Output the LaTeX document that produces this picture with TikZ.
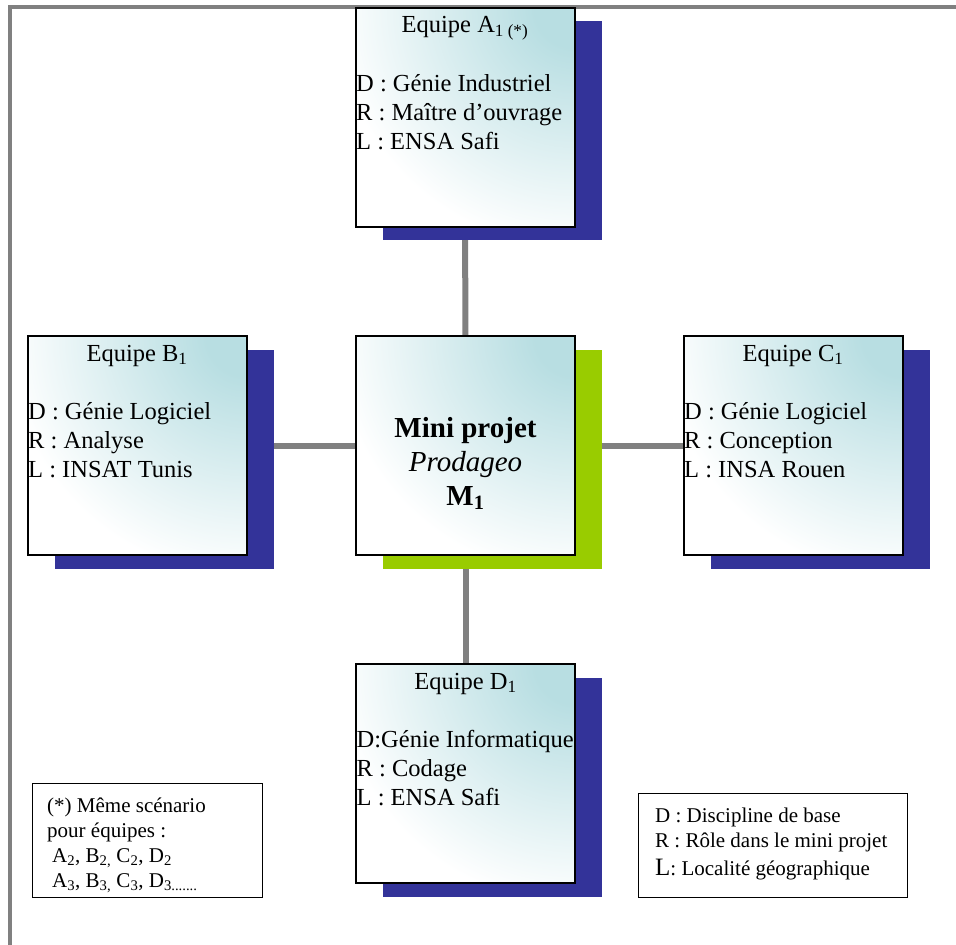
\documentclass[tikz,border=0pt]{standalone}
\usepackage{fontspec}
\setmainfont{Liberation Serif}
\usetikzlibrary{shadows,calc}
\definecolor{tealc}{RGB}{184,222,226}
\definecolor{navyc}{RGB}{51,51,153}
\definecolor{greenc}{RGB}{153,204,0}
\definecolor{grayc}{RGB}{128,128,128}
\pgfdeclareradialshading{tealrad}{\pgfpoint{0bp}{0bp}}{color(0bp)=(tealc); color(4bp)=(tealc); color(24bp)=(white); color(50bp)=(white)}
\pgfdeclarelayer{background}
\pgfsetlayers{background,main}
\tikzset{
  teambox/.style={draw=black, line width=2pt, minimum width=219pt, minimum height=219pt, inner sep=0pt, fill=white,
    path picture={\shade[shading=tealrad] (path picture bounding box.north east) circle (250pt);},
    general shadow={fill=navyc, shadow xshift=27pt, shadow yshift=-13.5pt}},
  centerbox/.style={teambox, general shadow={fill=greenc, shadow xshift=27pt, shadow yshift=-13.5pt}},
  conn/.style={draw=grayc, line width=6pt},
  notebox/.style={draw=black, line width=1.5pt, fill=white, inner sep=0pt},
  bigtxt/.style={inner sep=0pt, font=\fontsize{24.5}{29}\selectfont},
  midtxt/.style={inner sep=0pt, font=\fontsize{29}{34}\selectfont, align=center},
  smalltxt/.style={inner sep=0pt, font=\fontsize{21}{25}\selectfont, align=left},
  frame/.style={draw=grayc, line width=4pt}
}
\begin{document}
\begin{tikzpicture}[x=1pt,y=1pt]
\useasboundingbox (0,0) rectangle (956,-945);
% frame
\draw[frame] (10,-945) -- (10,-7) -- (956,-7);

% boxes
\node[teambox] (A) at (465,-117) {};
\node[teambox] (B) at (137,-445.5) {};
\node[centerbox] (M) at (465.5,-445.5) {};
\node[teambox] (C) at (793,-445.5) {};
\node[teambox] (D) at (465.5,-773.5) {};

% connectors
\begin{pgfonlayer}{background}
\draw[conn] (A) -- (M);
\draw[conn] (B) -- (M);
\draw[conn] (M) -- (C);
\draw[conn] (M) -- (D);
\end{pgfonlayer}

% texts of A (base anchor = last line baseline)
\node[bigtxt, anchor=base] (tA) at ($(A.north)+(0,-26)$) {Equipe A\textsubscript{1 (*)}};
\node[bigtxt, anchor=base west, align=left] (lA) at ($(A.north west)+(1.5,-143)$) {D : Génie Industriel\\R : Maître d’ouvrage\\L : ENSA Safi};
% B
\node[bigtxt, anchor=base] (tB) at ($(B.north)+(0,-26)$) {Equipe B\textsubscript{1}};
\node[bigtxt, anchor=base west, align=left] (lB) at ($(B.north west)+(1.5,-142)$) {D : Génie Logiciel\\R : Analyse\\L : INSAT Tunis};
% C
\node[bigtxt, anchor=base] (tC) at ($(C.north)+(0,-26)$) {Equipe C\textsubscript{1}};
\node[bigtxt, anchor=base west, align=left] (lC) at ($(C.north west)+(1.5,-142)$) {D : Génie Logiciel\\R : Conception\\L : INSA Rouen};
% D
\node[bigtxt, anchor=base] (tD) at ($(D.north)+(0,-26)$) {Equipe D\textsubscript{1}};
\node[bigtxt, anchor=base west, align=left] (lD) at ($(D.north west)+(1.5,-142)$) {D:Génie Informatique\\R : Codage\\L : ENSA Safi};
% M
\node[midtxt, anchor=base] (tM) at (465.5,-505) {\textbf{Mini projet}\\\textit{Prodageo}\\\textbf{M\textsubscript{1}}};

% notes
\node[notebox, minimum width=230pt, minimum height=114pt] (N1) at (147.5,-840.5) {};
\node[smalltxt, anchor=base west] (tN1) at (47,-887) {(*) Même scénario\\pour équipes :\\\hspace*{5pt}A\textsubscript{2}, B\textsubscript{2,} C\textsubscript{2}, D\textsubscript{2}\\\hspace*{5pt}A\textsubscript{3}, B\textsubscript{3,} C\textsubscript{3}, D\textsubscript{3.......}};
\node[notebox, minimum width=269pt, minimum height=104pt] (N2) at (773,-845.5) {};
\node[smalltxt, anchor=base west] (tN2) at (655,-875) {D : Discipline de base\\R : Rôle dans le mini projet\\[3pt]{\fontsize{25}{25}\selectfont L}: Localité géographique};
\end{tikzpicture}
\end{document}
